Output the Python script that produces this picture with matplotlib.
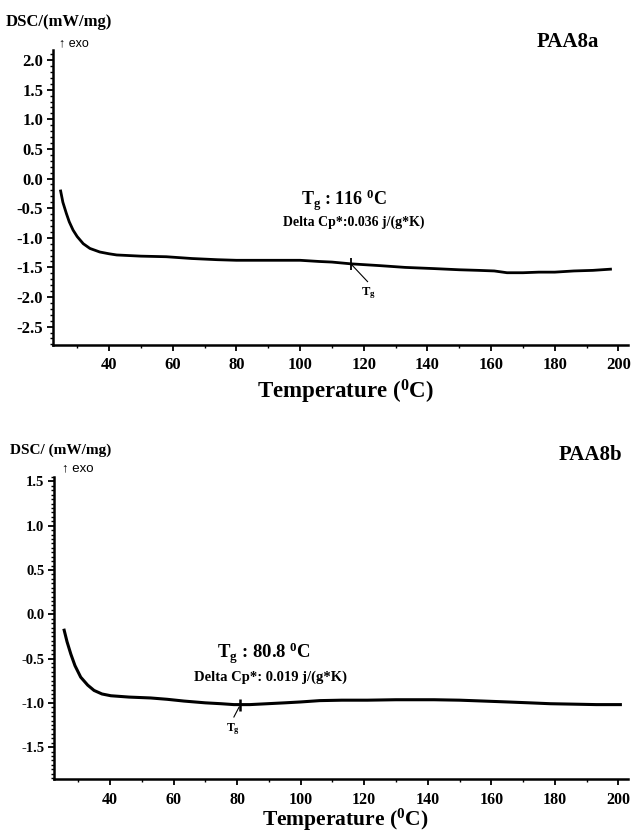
import matplotlib
matplotlib.use("Agg")
import matplotlib.pyplot as plt
from matplotlib.ticker import MultipleLocator

plt.rcParams['font.family'] = ['Liberation Serif', 'DejaVu Serif']
plt.rcParams['mathtext.fontset'] = 'custom'
plt.rcParams['mathtext.rm'] = 'Liberation Serif'
plt.rcParams['mathtext.bf'] = 'Liberation Serif:bold'
plt.rcParams['mathtext.it'] = 'Liberation Serif:italic'

# ---- data: PAA8a ----
temp_a = [24.8, 25.5, 26.6, 27.5, 28.7, 30, 31.9, 34, 37.1, 40, 42.4, 50, 58, 66, 74, 80,
          90, 100, 106, 110, 116, 125, 133, 142, 150, 156, 161, 165, 170, 175, 180, 186, 192, 197.5]
dsc_a = [-0.21, -0.40, -0.59, -0.73, -0.87, -0.98, -1.10, -1.18, -1.24, -1.27, -1.29, -1.31,
         -1.32, -1.35, -1.37, -1.38, -1.38, -1.38, -1.40, -1.41, -1.44, -1.47, -1.50, -1.52,
         -1.54, -1.55, -1.56, -1.59, -1.59, -1.58, -1.58, -1.56, -1.55, -1.53]
tg_a = 116.0
tg_a_y = -1.44

# ---- data: PAA8b ----
temp_b = [25.6, 26.5, 27.7, 29, 30.8, 33, 35, 37.5, 40.3, 46, 52.8, 58, 63.3, 70, 75, 79, 84,
          89.5, 95, 100, 106, 113, 121, 130, 142, 150, 157.6, 165, 172, 178.6, 186, 193, 200.6]
dsc_b = [-0.18, -0.31, -0.45, -0.58, -0.71, -0.80, -0.86, -0.90, -0.92, -0.935, -0.945, -0.96,
         -0.98, -1.0, -1.01, -1.02, -1.02, -1.01, -1.0, -0.99, -0.975, -0.97, -0.97, -0.965,
         -0.965, -0.97, -0.98, -0.99, -1.0, -1.01, -1.015, -1.02, -1.02]
tg_b = 80.8
tg_b_y = -1.02

xticks = [40, 60, 80, 100, 120, 140, 160, 180, 200]
yticks_a = [2.0, 1.5, 1.0, 0.5, 0.0, -0.5, -1.0, -1.5, -2.0, -2.5]
yticks_b = [1.5, 1.0, 0.5, 0.0, -0.5, -1.0, -1.5]

W, H = 636, 836
fig = plt.figure(figsize=(W / 100, H / 100), dpi=100)


def fx(px):
    return px / W


def fy(py):
    return 1 - py / H


def make_axes(left, right, top, bottom):
    return fig.add_axes([fx(left), fy(bottom), fx(right - left), (bottom - top) / H])


def style(ax, yticks, ymin, ymax, yminor, ysize, xsize):
    ax.set_xlim(22.4, 203)
    ax.set_ylim(ymin, ymax)
    for s in ['top', 'right']:
        ax.spines[s].set_visible(False)
    for s in ['left', 'bottom']:
        ax.spines[s].set_linewidth(1.8)
    ax.set_xticks(xticks)
    ax.set_xticklabels([str(t) for t in xticks])
    ax.set_yticks(yticks)
    ax.set_yticklabels(['%.1f' % t for t in yticks])
    ax.xaxis.set_minor_locator(MultipleLocator(10))
    ax.yaxis.set_minor_locator(MultipleLocator(yminor))
    ax.tick_params(axis='both', which='major', direction='out', length=4, width=1.3, pad=3)
    ax.tick_params(axis='both', which='minor', direction='out', length=2.5, width=1.0)
    ax.tick_params(axis='x', labelsize=xsize, pad=5)
    ax.tick_params(axis='y', labelsize=ysize)
    for lab in ax.get_xticklabels() + ax.get_yticklabels():
        lab.set_fontweight('bold')


# ---- top panel ----
ax1 = make_axes(53, 628, 50, 345)
style(ax1, yticks_a, -2.81, 2.17, 0.1, 12, 12)
ax1.plot(temp_a, dsc_a, color='black', lw=2.0)
ax1.plot([tg_a], [tg_a_y], marker='|', color='black', markersize=8, mew=1.3)
ax1.plot([tg_a + 0.3, 121.2], [tg_a_y - 0.02, -1.74], color='black', lw=0.8)
ax1.text(121.5, -1.93, r'$\mathbf{T_g}$', ha='center', va='center', fontsize=9)
ax1.text(113.8, -0.36, r'$\mathbf{T_g}$ : 116 $^\mathbf{0}$C', ha='center', va='center',
         fontsize=13, fontweight='bold')
ax1.text(117.0, -0.74, 'Delta Cp*:0.036 j/(g*K)', ha='center', va='center',
         fontsize=10, fontweight='bold')
fig.text(fx(568), fy(42), 'PAA8a', ha='center', va='center', fontsize=15, fontweight='bold')
fig.text(fx(6), fy(22), 'DSC/(mW/mg)', ha='left', va='center', fontsize=12, fontweight='bold')
fig.text(fx(59), fy(43), '\u2191 exo', ha='left', va='center', fontsize=9,
         family=['Liberation Sans', 'DejaVu Sans'])
fig.text(fx(345), fy(392), 'Temperature ($^\\mathbf{0}$C)', ha='center', va='center',
         fontsize=16.5, fontweight='bold')

# ---- bottom panel ----
ax2 = make_axes(54, 628, 477, 779)
style(ax2, yticks_b, -1.86, 1.55, 0.05, 10.5, 11.5)
ax2.plot(temp_b, dsc_b, color='black', lw=2.2)
ax2.plot([tg_b], [tg_b_y], marker='|', color='black', markersize=8, mew=1.8)
ax2.plot([tg_b - 0.2, 79.0], [tg_b_y - 0.03, -1.16], color='black', lw=0.8)
ax2.text(78.6, -1.30, r'$\mathbf{T_g}$', ha='center', va='center', fontsize=8.5)
ax2.text(88.4, -0.44, r'$\mathbf{T_g}$ : 80.8 $^\mathbf{0}$C', ha='center', va='center',
         fontsize=13.5, fontweight='bold')
ax2.text(90.5, -0.71, 'Delta Cp*: 0.019 j/(g*K)', ha='center', va='center',
         fontsize=10.5, fontweight='bold')
fig.text(fx(590), fy(455), 'PAA8b', ha='center', va='center', fontsize=15, fontweight='bold')
fig.text(fx(10), fy(450), 'DSC/ (mW/mg)', ha='left', va='center', fontsize=11, fontweight='bold')
fig.text(fx(62), fy(468), '\u2191 exo', ha='left', va='center', fontsize=9.5,
         family=['Liberation Sans', 'DejaVu Sans'])
fig.text(fx(345), fy(820), 'Temperature ($^\\mathbf{0}$C)', ha='center', va='center',
         fontsize=15.5, fontweight='bold')

fig.savefig('out.png', dpi=100)
